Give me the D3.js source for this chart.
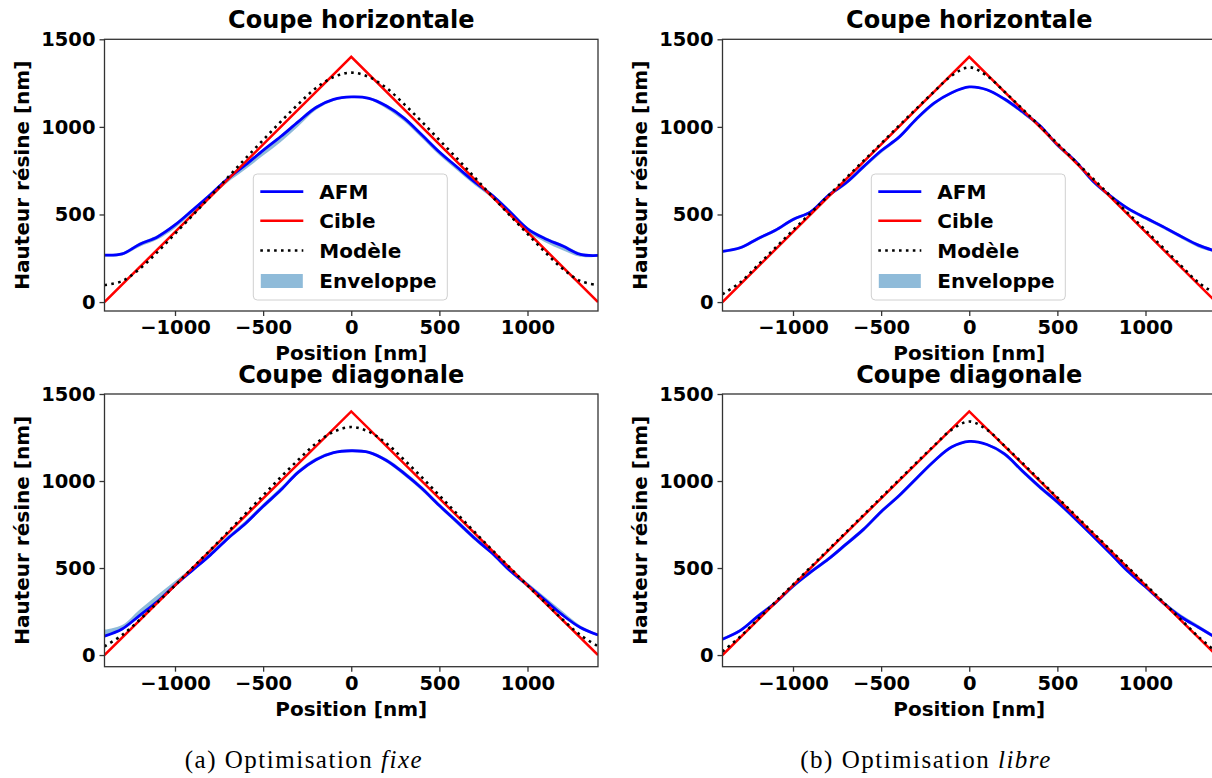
<!DOCTYPE html>
<html><head><meta charset="utf-8">
<script src="https://cdn.jsdelivr.net/npm/d3@7"></script>
<style>
body{margin:0;background:#fff}
svg{display:block}
text{font-family:"DejaVu Sans";font-weight:bold;fill:#000}
</style>
</head><body>
<svg id="c" width="1212" height="778"></svg>
<script>
// ---------------- DATA ----------------
const positions = [-1400,-1300,-1200,-1100,-1000,-900,-800,-700,-600,-500,-400,-300,-200,-100,0,100,200,300,400,500,600,700,800,900,1000,1100,1200,1300,1400];
const cibleX = [-1400, 0, 1400];
const cibleY = [0, 1400, 0];

// (a) fixe — coupe horizontale
const afmHorizFixe = [268,275,330,372,440,525,612,705,783,866,945,1030,1111,1157,1171,1163,1119,1050,955,857,771,686,609,515,418,362,320,272,266];
const envLoHorizFixe = [260,266,316,357,422,508,594,684,758,836,914,1004,1096,1148,1165,1156,1104,1032,936,838,753,668,592,496,398,342,296,258,258];
const envHiHorizFixe = [273,283,340,382,450,534,622,714,792,875,954,1040,1120,1164,1177,1170,1128,1060,964,866,780,695,618,526,428,372,330,282,271];
const modelHorizFixe = [97,120,190,285,390,495,603,712,820,925,1030,1130,1222,1285,1310,1285,1222,1130,1030,925,820,712,603,495,390,285,190,120,97];

// (b) libre — coupe horizontale
const afmHorizLibre = [290,310,362,410,472,515,608,680,773,864,940,1045,1135,1195,1228,1212,1159,1088,1008,898,807,693,607,535,481,430,376,325,290];
const envLoHorizLibre = [282,302,352,400,462,505,596,668,760,850,928,1032,1124,1186,1222,1205,1148,1075,994,884,794,680,596,524,470,418,364,312,282];
const envHiHorizLibre = [296,318,370,418,480,523,616,688,781,872,948,1053,1142,1201,1233,1218,1166,1095,1015,906,815,701,615,543,489,438,384,334,297];
const modelHorizLibre = [45,112,210,310,410,508,607,707,806,905,1005,1104,1201,1292,1340,1292,1201,1104,1005,905,806,707,607,508,410,310,210,112,45];

// (a) fixe — coupe diagonale
const afmDiagFixe = [109,150,228,307,401,488,574,670,756,855,948,1051,1122,1163,1174,1165,1118,1044,958,859,766,671,585,486,402,316,229,158,115];
const envLoDiagFixe = [103,142,218,298,390,478,564,660,745,842,936,1040,1112,1156,1168,1158,1106,1030,944,846,752,658,574,475,390,305,220,150,108];
const envHiDiagFixe = [145,172,262,345,425,508,592,686,772,870,964,1064,1134,1171,1181,1173,1130,1058,972,872,780,685,598,500,417,333,250,170,122];
const modelDiagFixe = [50,115,203,302,400,502,603,707,812,917,1022,1122,1216,1283,1310,1283,1216,1122,1022,917,812,707,603,502,400,302,203,115,50];

// (b) libre — coupe diagonale
const afmDiagLibre = [91,140,222,300,396,476,551,636,722,824,914,1015,1114,1195,1228,1210,1156,1059,966,880,785,686,585,481,392,300,220,160,99];
const envLoDiagLibre = [84,132,212,290,384,466,540,624,710,812,902,1003,1103,1188,1222,1203,1144,1046,952,867,772,674,574,470,382,290,210,150,90];
const envHiDiagLibre = [100,150,235,310,406,488,562,648,734,836,926,1026,1124,1202,1233,1217,1166,1070,978,892,797,698,596,493,404,312,234,172,108];
const modelDiagLibre = [20,105,205,305,405,505,605,705,805,905,1005,1105,1203,1295,1342,1295,1203,1105,1005,905,805,705,605,505,405,305,205,105,20];

const xTicks = [-1000, -500, 0, 500, 1000];
const yTicks = [0, 500, 1000, 1500];
const legendLabels = ["AFM", "Cible", "Modèle", "Enveloppe"];
const titles = ["Coupe horizontale", "Coupe diagonale"];
const xLabel = "Position [nm]";
const yLabel = "Hauteur résine [nm]";

// ---------------- LAYOUT ----------------
const svg = d3.select("#c");
const C = {afm:"#0000ff", cible:"#ff0000", model:"#000000", env:"#1f77b4"};

const panels = [
  {x0:104.5, x1:598,  yT:39.3, yB:311,   ymin:-51, afm:afmHorizFixe, lo:envLoHorizFixe, hi:envHiHorizFixe, model:modelHorizFixe, title:titles[0], legend:true},
  {x0:722.5, x1:1216, yT:39.3, yB:311,   ymin:-51, afm:afmHorizLibre, lo:envLoHorizLibre, hi:envHiHorizLibre, model:modelHorizLibre, title:titles[0], legend:true},
  {x0:104.5, x1:598,  yT:394,  yB:666.7, ymin:-67, afm:afmDiagFixe, lo:envLoDiagFixe, hi:envHiDiagFixe, model:modelDiagFixe, title:titles[1], legend:false},
  {x0:722.5, x1:1216, yT:394,  yB:666.7, ymin:-67, afm:afmDiagLibre, lo:envLoDiagLibre, hi:envHiDiagLibre, model:modelDiagLibre, title:titles[1], legend:false}
];

const fmt = d => d < 0 ? "\u2212" + Math.abs(d) : String(d);

panels.forEach((p, i) => {
  const x = d3.scaleLinear().domain([-1400, 1400]).range([p.x0, p.x1]);
  const y = d3.scaleLinear().domain([p.ymin, 1500]).range([p.yB, p.yT]);
  const g = svg.append("g");
  const cid = "clip" + i;
  g.append("clipPath").attr("id", cid).append("rect")
    .attr("x", p.x0).attr("y", p.yT).attr("width", p.x1 - p.x0).attr("height", p.yB - p.yT);
  const plot = g.append("g").attr("clip-path", `url(#${cid})`);

  const idx = d3.range(positions.length);
  const area = d3.area().curve(d3.curveCatmullRom)
    .x(j => x(positions[j])).y0(j => y(p.lo[j])).y1(j => y(p.hi[j]));
  plot.append("path").attr("d", area(idx)).attr("fill", C.env).attr("fill-opacity", 0.5);

  const line = arr => d3.line().curve(d3.curveCatmullRom).x(j => x(positions[j])).y(j => y(arr[j]))(idx);
  plot.append("path").attr("d", line(p.afm)).attr("fill", "none").attr("stroke", C.afm).attr("stroke-width", 2.8);

  const cib = d3.line().x(j => x(cibleX[j])).y(j => y(cibleY[j]));
  plot.append("path").attr("d", cib([0,1,2])).attr("fill", "none").attr("stroke", C.cible).attr("stroke-width", 2.5);

  plot.append("path").attr("d", line(p.model)).attr("fill", "none").attr("stroke", C.model)
    .attr("stroke-width", 2.6).attr("stroke-dasharray", "2.6,4.3");

  // spines
  g.append("rect").attr("x", p.x0).attr("y", p.yT).attr("width", p.x1 - p.x0).attr("height", p.yB - p.yT)
    .attr("fill", "none").attr("stroke", "#333").attr("stroke-width", 1.3);

  // axes
  const xa = g.append("g").attr("transform", `translate(0,${p.yB})`)
    .call(d3.axisBottom(x).tickValues(xTicks).tickFormat(fmt).tickSize(5).tickPadding(4));
  const ya = g.append("g").attr("transform", `translate(${p.x0},0)`)
    .call(d3.axisLeft(y).tickValues(yTicks).tickFormat(fmt).tickSize(5).tickPadding(4));
  [xa, ya].forEach(a => {
    a.select(".domain").remove();
    a.selectAll(".tick line").attr("stroke", "#333").attr("stroke-width", 1.3);
    a.selectAll(".tick text").attr("font-family", "DejaVu Sans").attr("font-weight", "bold")
      .attr("font-size", 19.5).attr("fill", "#000");
  });

  const cx = (p.x0 + p.x1) / 2;
  g.append("text").attr("x", cx).attr("y", p.yT - 11).attr("text-anchor", "middle")
    .attr("font-size", 24).text(p.title);
  g.append("text").attr("x", cx).attr("y", p.yB + 49).attr("text-anchor", "middle")
    .attr("font-size", 20).text(xLabel);
  const ylx = p.x0 - 83, yly = (p.yT + p.yB) / 2;
  g.append("text").attr("transform", `translate(${ylx},${yly}) rotate(-90)`).attr("text-anchor", "middle")
    .attr("dy", "0.35em").attr("font-size", 20).text(yLabel);

  if (p.legend) {
    const lx = p.x0 + 148.8, ly = 174;
    const L = g.append("g");
    L.append("rect").attr("x", lx).attr("y", ly).attr("width", 194).attr("height", 126).attr("rx", 4)
      .attr("fill", "#fff").attr("fill-opacity", 0.8).attr("stroke", "#d0d0d0").attr("stroke-width", 1);
    const rows = [17.7, 46.7, 76.5, 107];
    rows.forEach((ry, k) => {
      const yy = ly + ry;
      if (k === 0) L.append("line").attr("x1", lx + 7).attr("x2", lx + 50).attr("y1", yy).attr("y2", yy).attr("stroke", C.afm).attr("stroke-width", 2.8);
      if (k === 1) L.append("line").attr("x1", lx + 7).attr("x2", lx + 50).attr("y1", yy).attr("y2", yy).attr("stroke", C.cible).attr("stroke-width", 2.5);
      if (k === 2) L.append("line").attr("x1", lx + 7).attr("x2", lx + 50).attr("y1", yy).attr("y2", yy).attr("stroke", C.model).attr("stroke-width", 2.6).attr("stroke-dasharray", "2.6,4.3");
      if (k === 3) L.append("rect").attr("x", lx + 7.5).attr("y", yy - 7).attr("width", 42).attr("height", 14).attr("fill", C.env).attr("fill-opacity", 0.5);
      L.append("text").attr("x", lx + 66).attr("y", yy).attr("dy", "0.36em").attr("font-size", 20).text(legendLabels[k]);
    });
  }
});

// captions
function caption(cx, main, ital) {
  const t = svg.append("text").attr("x", cx).attr("y", 768).attr("text-anchor", "middle")
    .attr("font-family", "Liberation Serif").attr("font-weight", "normal").attr("font-size", 25)
    .attr("letter-spacing", 1.5);
  t.append("tspan").attr("font-family", "Liberation Serif").attr("font-weight", "normal").text(main);
  t.append("tspan").attr("font-family", "Liberation Serif").attr("font-weight", "normal").attr("font-style", "italic").text(ital);
}
caption(304, "(a) Optimisation ", "fixe");
caption(926, "(b) Optimisation ", "libre");
</script>
</body></html>
